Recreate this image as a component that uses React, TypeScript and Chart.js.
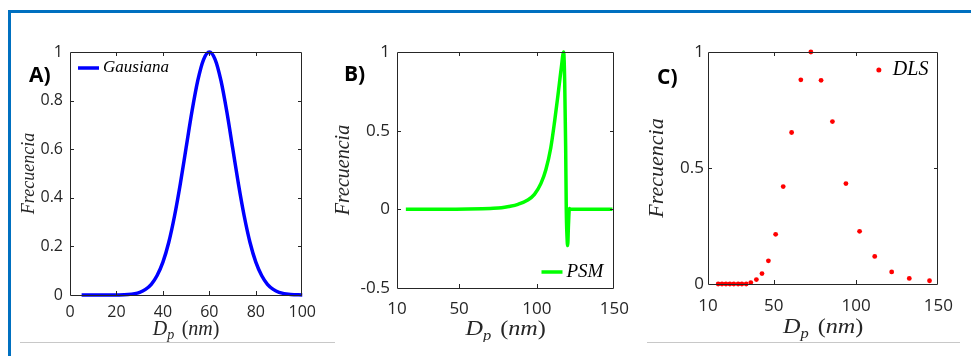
import React, { useEffect, useRef } from "react";
import { Chart, registerables } from "chart.js";

Chart.register(...registerables);

// ---------- data ----------
const gaussX = [5, 10, 15, 20, 25, 30, 32.5, 35, 37.5, 40, 42.5, 45, 47.5, 50, 52.5, 55, 57.5, 60, 62.5, 65, 67.5, 70, 72.5, 75, 77.5, 80, 82.5, 85, 87.5, 90, 95, 100];
const gaussY = [0, 0, 0, 0.0003, 0.002, 0.011, 0.023, 0.044, 0.08, 0.135, 0.216, 0.325, 0.458, 0.607, 0.755, 0.882, 0.969, 1, 0.969, 0.882, 0.755, 0.607, 0.458, 0.325, 0.216, 0.135, 0.08, 0.044, 0.023, 0.011, 0.002, 0.0003];

const psmX = [15.7, 30, 45, 56, 65, 70, 77.3, 82, 87.9, 94.2, 98.5, 102.7, 105.8, 109, 111.5, 113.7, 115.8, 117.3, 118.0, 118.6, 119.0, 119.5, 119.9, 120.4, 121.0, 121.5, 130, 140, 148.7];
const psmY = [0, 0, 0.001, 0.002, 0.004, 0.006, 0.01, 0.018, 0.032, 0.059, 0.095, 0.165, 0.25, 0.39, 0.56, 0.73, 0.9, 1.0, 0.8, 0.4, 0, -0.18, -0.23, -0.1, 0.005, 0, 0, 0, 0];

const dlsX = [16.2, 18.5, 20.9, 23.3, 25.7, 28.3, 30.6, 33.2, 36.0, 39.4, 42.8, 46.7, 51.1, 55.7, 60.8, 66.4, 72.5, 78.7, 85.6, 93.8, 102.1, 111.3, 121.6, 132.3, 144.6];
const dlsY = [0, 0, 0, 0, 0, 0, 0, 0, 0.006, 0.019, 0.045, 0.1, 0.214, 0.42, 0.653, 0.88, 1.0, 0.878, 0.7, 0.433, 0.227, 0.119, 0.052, 0.024, 0.014];

const xTicksA = [0, 20, 40, 60, 80, 100];
const xTicksBC = [10, 50, 100, 150];
const yTicksA = [0, 0.2, 0.4, 0.6, 0.8, 1];
const yTicksB = [-0.5, 0, 0.5, 1];
const yTicksC = [0, 0.5, 1];

const yTitle = "Frecuencia";
const xTitleMain = "D";
const xTitleSub = "p";
const xTitleUnit = "nm";
const labelA = "Gausiana";
const labelB = "PSM";
const labelC = "DLS";
const panelLabels = ["A)", "B)", "C)"];

const AXIS = "#262626";
const SERIF = '"Liberation Serif", "Times New Roman", serif';
const SANS = '"Open Sans", "Noto Sans", sans-serif';

// ---------- plugins ----------
const boxPlugin = {
  id: "matlabBox",
  afterDraw(chart: any) {
    const { ctx, chartArea } = chart;
    const L = Math.round(chartArea.left);
    const R = Math.round(chartArea.right);
    const T = Math.round(chartArea.top);
    const B = Math.round(chartArea.bottom);
    const tl = 4;
    ctx.save();
    ctx.strokeStyle = AXIS;
    ctx.lineWidth = 1;
    ctx.beginPath();
    ctx.rect(L + 0.5, T + 0.5, R - L - 1, B - T);
    ctx.stroke();
    ctx.beginPath();
    const xs = chart.scales.x;
    xs.ticks.forEach((t: any) => {
      const p = Math.round(xs.getPixelForValue(t.value)) + 0.5;
      if (p < L + 2 || p > R - 2) return;
      ctx.moveTo(p, B);
      ctx.lineTo(p, B - tl);
      ctx.moveTo(p, T);
      ctx.lineTo(p, T + tl);
    });
    const ys = chart.scales.y;
    ys.ticks.forEach((t: any) => {
      const p = Math.round(ys.getPixelForValue(t.value)) + 0.5;
      if (p < T + 2 || p > B - 2) return;
      ctx.moveTo(L, p);
      ctx.lineTo(L + tl, p);
      ctx.moveTo(R, p);
      ctx.lineTo(R - tl, p);
    });
    ctx.stroke();
    ctx.restore();
  },
};

const legendPlugin = {
  id: "insideLegend",
  afterDraw(chart: any, _args: any, opts: any) {
    const { ctx, chartArea } = chart;
    const ds = chart.data.datasets[0];
    const color = ds.borderColor || ds.backgroundColor;
    ctx.save();
    ctx.font = `italic ${opts.size}px ${SERIF}`;
    ctx.fillStyle = "#000";
    ctx.textBaseline = "middle";
    const text = ds.label;
    const w = ctx.measureText(text).width;
    let tx = 0;
    let ty = 0;
    if (opts.corner === "tl") {
      tx = chartArea.left + 33;
      ty = chartArea.top + 16;
    } else if (opts.corner === "br") {
      tx = chartArea.right - 11 - w;
      ty = chartArea.bottom - 16;
    } else {
      tx = chartArea.right - 10 - w;
      ty = chartArea.top + 18;
    }
    ctx.textAlign = "left";
    ctx.fillText(text, tx, ty);
    if (opts.kind === "line") {
      ctx.strokeStyle = color;
      ctx.lineWidth = 3.5;
      ctx.beginPath();
      ctx.moveTo(tx - 25, ty);
      ctx.lineTo(tx - 4, ty);
      ctx.stroke();
    } else {
      ctx.fillStyle = color;
      ctx.beginPath();
      ctx.arc(tx - 14, ty, 2.5, 0, Math.PI * 2);
      ctx.fill();
    }
    ctx.restore();
  },
};

const xTitlePlugin = {
  id: "xTitle",
  afterDraw(chart: any, _args: any, opts: any) {
    const { ctx, chartArea } = chart;
    const s = opts.size;
    const italic = `italic ${s}px ${SERIF}`;
    const sub = `italic ${Math.round(s * 0.7)}px ${SERIF}`;
    const upright = `${s}px ${SERIF}`;
    const parts = [
      { t: xTitleMain, f: italic, dy: 0 },
      { t: xTitleSub, f: sub, dy: s * 0.22 },
      { t: " (", f: upright, dy: 0 },
      { t: xTitleUnit, f: italic, dy: 0 },
      { t: ")", f: upright, dy: 0 },
    ];
    ctx.save();
    let total = 0;
    const widths = parts.map((p) => {
      ctx.font = p.f;
      const w = ctx.measureText(p.t).width + (p.t === " (" ? s * 0.12 : 0);
      total += w;
      return w;
    });
    const sx = opts.sx || 1;
    const cx = (chartArea.left + chartArea.right) / 2;
    const base = chartArea.bottom + opts.offset;
    ctx.translate(cx, base);
    ctx.scale(sx, 1);
    let x = -total / 2;
    ctx.fillStyle = AXIS;
    ctx.textBaseline = "alphabetic";
    ctx.textAlign = "left";
    parts.forEach((p, i) => {
      ctx.font = p.f;
      ctx.fillText(p.t, x + (p.t === " (" ? s * 0.12 : 0), p.dy);
      x += widths[i];
    });
    ctx.restore();
  },
};

// ---------- helpers ----------
function pts(xs: number[], ys: number[]) {
  return xs.map((x, i) => ({ x, y: ys[i] }));
}

type PanelSpec = {
  left: number;
  top: number;
  width: number;
  height: number;
  plotL: number;
  plotR: number;
  plotT: number;
  plotB: number;
  xMin: number;
  xMax: number;
  xTicks: number[];
  yMin: number;
  yMax: number;
  yTicks: number[];
  tickSize: number;
  xTickPad: number;
  yTickPad: number;
  yTitleSize: number;
  yTitlePad: number;
  xTitleSize: number;
  xTitleOffset: number;
  xTitleSx: number;
  legendSize: number;
  corner: string;
  kind: string;
  dataset: any;
  chartType: string;
};

function buildConfig(p: PanelSpec): any {
  return {
    type: p.chartType,
    data: { datasets: [p.dataset] },
    plugins: [boxPlugin, legendPlugin, xTitlePlugin],
    options: {
      animation: false,
      responsive: false,
      maintainAspectRatio: false,
      devicePixelRatio: 1,
      events: [],
      layout: {
        padding: {
          left: 0,
          top: p.plotT - p.top,
          right: p.left + p.width - p.plotR,
          bottom: 0,
        },
      },
      plugins: {
        legend: { display: false },
        tooltip: { enabled: false },
        insideLegend: { size: p.legendSize, corner: p.corner, kind: p.kind },
        xTitle: { size: p.xTitleSize, offset: p.xTitleOffset, sx: p.xTitleSx },
      },
      scales: {
        x: {
          type: "linear",
          min: p.xMin,
          max: p.xMax,
          afterBuildTicks: (s: any) => {
            s.ticks = p.xTicks.map((v) => ({ value: v }));
          },
          afterFit: (s: any) => {
            s.height = p.top + p.height - p.plotB;
          },
          grid: { display: false, drawTicks: false },
          border: { display: false },
          ticks: {
            color: AXIS,
            font: { family: SANS, size: p.tickSize },
            padding: p.xTickPad,
            maxRotation: 0,
            autoSkip: false,
            callback: (v: any) => String(Number(v)),
          },
        },
        y: {
          type: "linear",
          min: p.yMin,
          max: p.yMax,
          afterBuildTicks: (s: any) => {
            s.ticks = p.yTicks.map((v) => ({ value: v }));
          },
          afterFit: (s: any) => {
            s.width = p.plotL - p.left;
          },
          grid: { display: false, drawTicks: false },
          border: { display: false },
          ticks: {
            color: AXIS,
            font: { family: SANS, size: p.tickSize },
            padding: p.yTickPad,
            autoSkip: false,
            callback: (v: any) => String(Number(v)),
          },
          title: {
            display: true,
            text: yTitle,
            color: AXIS,
            font: { family: SERIF, style: "italic", size: p.yTitleSize, lineHeight: 1 },
            padding: { top: p.yTitlePad, bottom: 0 },
          },
        },
      },
    },
  };
}

const panelA: PanelSpec = {
  left: 12, top: 20, width: 312, height: 322,
  plotL: 70, plotR: 304, plotT: 52, plotB: 295,
  xMin: 0, xMax: 100, xTicks: xTicksA,
  yMin: 0, yMax: 1, yTicks: yTicksA,
  tickSize: 16, xTickPad: 8, yTickPad: 7,
  yTitleSize: 18, yTitlePad: 8,
  xTitleSize: 20, xTitleOffset: 40, xTitleSx: 1,
  legendSize: 17, corner: "tl", kind: "line",
  chartType: "line",
  dataset: {
    label: labelA,
    data: pts(gaussX, gaussY),
    borderColor: "#0000ff",
    borderWidth: 3.5,
    pointRadius: 0,
    cubicInterpolationMode: "monotone",
    fill: false,
    clip: 6,
  },
};

const panelB: PanelSpec = {
  left: 330, top: 20, width: 310, height: 322,
  plotL: 397, plotR: 618, plotT: 52, plotB: 288,
  xMin: 10, xMax: 150, xTicks: xTicksBC,
  yMin: -0.5, yMax: 1, yTicks: yTicksB,
  tickSize: 17, xTickPad: 11, yTickPad: 7,
  yTitleSize: 20, yTitlePad: 4,
  xTitleSize: 22, xTitleOffset: 47, xTitleSx: 1.1,
  legendSize: 19, corner: "br", kind: "line",
  chartType: "line",
  dataset: {
    label: labelB,
    data: pts(psmX, psmY),
    borderColor: "#00ff00",
    borderWidth: 3.5,
    pointRadius: 0,
    cubicInterpolationMode: "monotone",
    fill: false,
    clip: 6,
  },
};

const panelC: PanelSpec = {
  left: 640, top: 20, width: 325, height: 322,
  plotL: 708, plotR: 943, plotT: 52, plotB: 284,
  xMin: 10, xMax: 150, xTicks: xTicksBC,
  yMin: 0, yMax: 1, yTicks: yTicksC,
  tickSize: 17, xTickPad: 12, yTickPad: 4,
  yTitleSize: 22, yTitlePad: 6,
  xTitleSize: 22, xTitleOffset: 49, xTitleSx: 1.1,
  legendSize: 20, corner: "tr", kind: "point",
  chartType: "scatter",
  dataset: {
    label: labelC,
    data: pts(dlsX, dlsY),
    backgroundColor: "#ff0000",
    borderWidth: 0,
    pointRadius: 2.4,
    showLine: false,
    clip: 6,
  },
};

function Panel({ spec }: { spec: PanelSpec }) {
  const ref = useRef<HTMLCanvasElement | null>(null);
  useEffect(() => {
    if (!ref.current) return;
    const chart = new Chart(ref.current, buildConfig(spec));
    return () => chart.destroy();
  }, [spec]);
  return (
    <canvas
      ref={ref}
      width={spec.width}
      height={spec.height}
      style={{ position: "absolute", left: spec.left, top: spec.top, width: spec.width, height: spec.height }}
    />
  );
}

const labelStyle: React.CSSProperties = {
  position: "absolute",
  fontFamily: SANS,
  fontWeight: 700,
  fontSize: 21,
  lineHeight: "21px",
  color: "#000",
  whiteSpace: "nowrap",
};

export default function App() {
  return (
    <div
      style={{
        position: "fixed",
        left: 0,
        top: 0,
        width: 971,
        height: 356,
        background: "#fff",
        overflow: "hidden",
      }}
    >
      <div style={{ position: "absolute", left: 8, top: 10, width: 963, height: 3, background: "#0070c0" }} />
      <div style={{ position: "absolute", left: 8, top: 10, width: 3, height: 346, background: "#0070c0" }} />
      <div style={{ position: "absolute", left: 20, top: 342, width: 315, height: 1, background: "#c8c8c8" }} />
      <div style={{ position: "absolute", left: 647, top: 342, width: 313, height: 1, background: "#c8c8c8" }} />
      <Panel spec={panelA} />
      <Panel spec={panelB} />
      <Panel spec={panelC} />
      <div style={{ ...labelStyle, left: 29, top: 64 }}>{panelLabels[0]}</div>
      <div style={{ ...labelStyle, left: 344, top: 63 }}>{panelLabels[1]}</div>
      <div style={{ ...labelStyle, left: 657, top: 66 }}>{panelLabels[2]}</div>
    </div>
  );
}
